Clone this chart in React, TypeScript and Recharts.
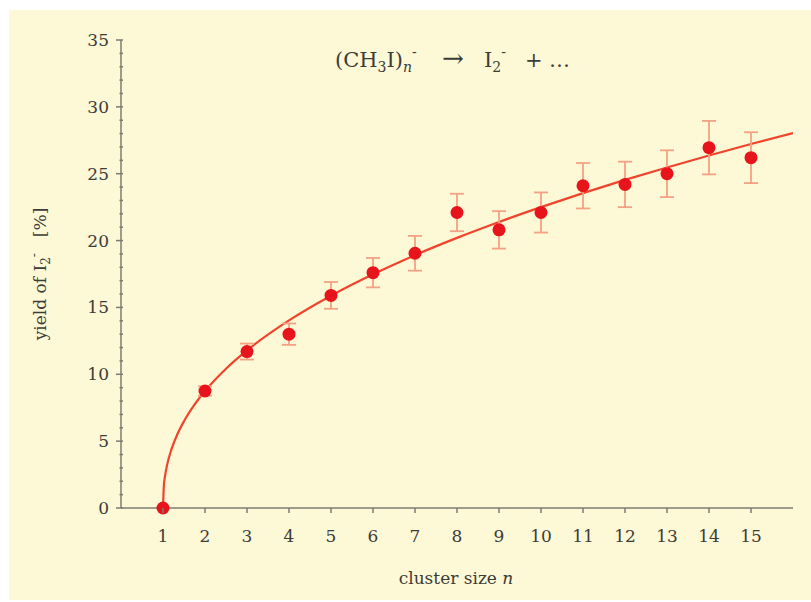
import React from 'react';
import {
  ComposedChart,
  Line,
  Scatter,
  ErrorBar,
  XAxis,
  YAxis,
} from 'recharts';

// measured yields, cluster size n = 1..15
const clusterSizes = [1, 2, 3, 4, 5, 6, 7, 8, 9, 10, 11, 12, 13, 14, 15];
const yieldValues = [0, 8.75, 11.7, 13.0, 15.9, 17.6, 19.05, 22.1, 20.8, 22.1, 24.1, 24.2, 25.0, 26.95, 26.2];
const yieldErrors = [0, 0.35, 0.6, 0.8, 1.0, 1.1, 1.3, 1.4, 1.4, 1.5, 1.7, 1.7, 1.75, 2.0, 1.9];

// fitted curve
const fitN = [1, 1.02, 1.05, 1.1, 1.2, 1.35, 1.5, 1.75, 2, 2.5, 3, 4, 5, 6, 7, 8, 9, 10, 11, 12, 13, 14, 15, 16];
const fitYield = [0, 1.63, 2.41, 3.25, 4.38, 5.57, 6.49, 7.73, 8.75, 10.42, 11.79, 14.03, 15.88, 17.48, 18.91, 20.2, 21.39, 22.5, 23.55, 24.54, 25.47, 26.36, 27.22, 28.04];

const xTicks = [1, 2, 3, 4, 5, 6, 7, 8, 9, 10, 11, 12, 13, 14, 15];
const yTicks = Array.from({ length: 36 }, (_, i) => i);

const points = clusterSizes.map((n, i) => ({ n, y: yieldValues[i], err: yieldErrors[i] }));
const fit = fitN.map((n, i) => ({ n, fit: fitYield[i] }));

const FONT = '"DejaVu Serif", "Liberation Serif", serif';
const AXIS = '#7c7c72';
const TEXT = '#3c3c38';

function YTick(props: any) {
  const { x, y, payload } = props;
  const major = payload.value % 5 === 0;
  return (
    <g>
      <line x1={x + 10 - (major ? 7 : 3.5)} y1={y} x2={x + 10} y2={y} stroke={AXIS} strokeWidth={1.5} />
      {major && (
        <text x={x - 4} y={y} dy={6} textAnchor="end" fill={TEXT} fontSize={17} fontFamily={FONT}>
          {payload.value}
        </text>
      )}
    </g>
  );
}

function XTick(props: any) {
  const { x, y, payload } = props;
  return (
    <g>
      <line x1={x} y1={y - 8} x2={x} y2={y - 3} stroke={AXIS} strokeWidth={1.5} />
      <text x={x} y={y + 26} textAnchor="middle" fill={TEXT} fontSize={17} fontFamily={FONT}>
        {payload.value}
      </text>
    </g>
  );
}

function Dot(props: any) {
  const { cx, cy } = props;
  return <circle cx={cx} cy={cy} r={6.5} fill="#e8141c" />;
}

export default function App() {
  return (
    <div style={{ position: 'absolute', left: 0, top: 0, width: 811, height: 602, background: '#ffffff' }}>
      <div style={{ position: 'absolute', left: 9, top: 10, width: 802, height: 590, background: '#fdf8d6' }} />
      <div style={{ position: 'absolute', left: 0, top: 0 }}>
        <ComposedChart width={811} height={602} margin={{ top: 40, right: 18, left: 71, bottom: 64 }}>
          <XAxis
            type="number"
            dataKey="n"
            domain={[0, 16]}
            ticks={xTicks}
            allowDataOverflow
            height={30}
            stroke={AXIS}
            strokeWidth={1.5}
            tickLine={false}
            tick={<XTick />}
            interval={0}
          />
          <YAxis
            type="number"
            domain={[0, 35]}
            ticks={yTicks}
            width={50}
            stroke={AXIS}
            strokeWidth={1.5}
            tickLine={false}
            tick={<YTick />}
            interval={0}
          />
          <Line
            data={fit}
            dataKey="fit"
            type="monotone"
            stroke="#f0442c"
            strokeWidth={2.2}
            dot={false}
            activeDot={false}
            isAnimationActive={false}
          />
          <Scatter data={points} dataKey="y" shape={<Dot />} isAnimationActive={false}>
            <ErrorBar dataKey="err" direction="y" width={7} stroke="#f4a283" strokeWidth={1.8} />
          </Scatter>
          <text y={67} fill={TEXT} fontSize={21} fontFamily={FONT}>
            <tspan x={335}>(CH</tspan>
            <tspan fontSize={14} dy={5}>3</tspan>
            <tspan dy={-5}>I)</tspan>
            <tspan fontSize={14} fontStyle="italic" dy={5}>n</tspan>
            <tspan fontSize={14} dy={-15}>-</tspan>
            <tspan x={442} dy={10} fontSize={26}>{'\u2192'}</tspan>
            <tspan x={484}>I</tspan>
            <tspan fontSize={14} dy={5}>2</tspan>
            <tspan fontSize={14} dy={-15}>-</tspan>
            <tspan x={525} dy={10}>+</tspan>
            <tspan x={549}>{'\u2026'}</tspan>
          </text>
          <text x={456} y={584} textAnchor="middle" fill={TEXT} fontSize={17} fontFamily={FONT}>
            cluster size <tspan fontStyle="italic">n</tspan>
          </text>
          <text
            x={0}
            y={0}
            transform="translate(46 274) rotate(-90)"
            textAnchor="middle"
            fill={TEXT}
            fontSize={17}
            fontFamily={FONT}
          >
            <tspan>yield of I</tspan>
            <tspan fontSize={12} dy={4}>2</tspan>
            <tspan fontSize={12} dy={-12}>-</tspan>
            <tspan dy={8} dx={16}>[%]</tspan>
          </text>
        </ComposedChart>
      </div>
    </div>
  );
}
